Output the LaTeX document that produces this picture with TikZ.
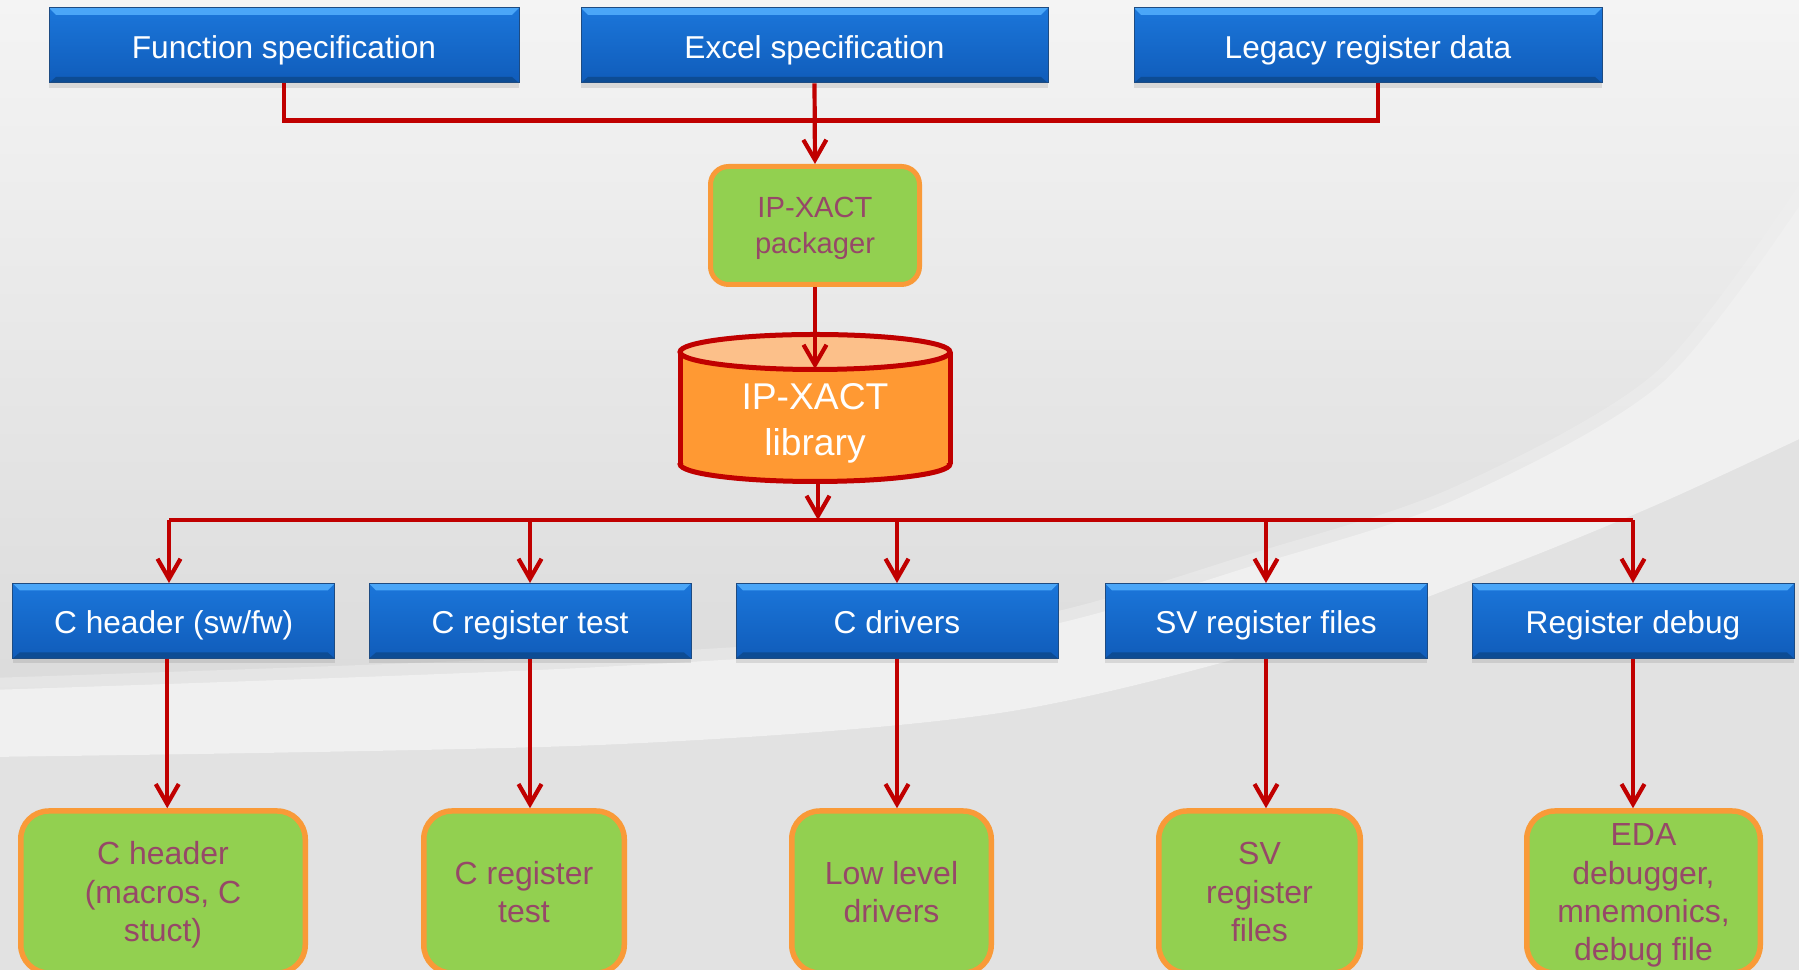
\documentclass[tikz,border=0pt]{standalone}
\usepackage{fontspec}
\setmainfont{Liberation Sans}
\usetikzlibrary{arrows.meta,shadows,calc}

\definecolor{wirered}{HTML}{C00000}
\definecolor{bluetop}{HTML}{1B76DA}
\definecolor{bluebot}{HTML}{105CBA}
\definecolor{bluehi}{HTML}{4AA6F8}
\definecolor{bluedark}{HTML}{0D4C94}
\definecolor{blueedge}{HTML}{1D4B82}
\definecolor{greenfill}{HTML}{92D050}
\definecolor{orangeedge}{HTML}{F99A38}
\definecolor{maroon}{RGB}{150,72,104}
\definecolor{cylbody}{HTML}{FF9933}
\definecolor{cyltop}{HTML}{FCC08A}
\definecolor{bgtop}{HTML}{F4F4F4}
\definecolor{bgmid}{HTML}{DBDBDB}
\definecolor{bglow}{HTML}{E2E2E2}
\definecolor{bgband}{HTML}{F0F0F0}

\newcommand{\boxlines}[2][0.35mm]{\raisebox{-#1}[\height][\depth]{\begin{tabular}{@{}c@{}}#2\end{tabular}}}

\tikzset{
  wire/.style={draw=wirered, line width=0.42mm},
  arr/.style={wire, -{Straight Barb[length=2mm, width=2.3mm]}},
  bluebox/.style={rectangle, minimum width=32.2mm, minimum height=7.5mm, inner sep=0pt,
    text height=0.8em, text depth=0.084em,
    top color=bluetop, bottom color=bluebot, draw=blueedge, line width=0.1mm,
    text=white, font=\fontsize{9}{10.8}\selectfont,
    drop shadow={shadow xshift=0mm, shadow yshift=-0.5mm, opacity=0.22},
    path picture={
      \fill[bluehi] (path picture bounding box.north west) -- (path picture bounding box.north east)
        -- ([xshift=-0.7mm,yshift=-0.7mm]path picture bounding box.north east)
        -- ([xshift=0.7mm,yshift=-0.7mm]path picture bounding box.north west) -- cycle;
      \fill[bluedark] (path picture bounding box.south west) -- (path picture bounding box.south east)
        -- ([xshift=-0.7mm,yshift=0.6mm]path picture bounding box.south east)
        -- ([xshift=0.7mm,yshift=0.6mm]path picture bounding box.south west) -- cycle;
    }},
  gbox/.style={rectangle, rounded corners=2.8mm, fill=greenfill, draw=orangeedge, line width=0.55mm,
    text=maroon, inner sep=0pt, minimum height=16.2mm,
    font=\fontsize{9.1}{10.9}\selectfont},
  pkbox/.style={rectangle, rounded corners=1.8mm, fill=greenfill, draw=orangeedge, line width=0.5mm,
    text=maroon, inner sep=0pt, minimum width=20.9mm, minimum height=11.8mm,
    font=\fontsize{8.3}{10.2}\selectfont},
  cylline/.style={draw=wirered, line width=0.5mm},
  libtext/.style={text=white, inner sep=0pt, font=\fontsize{10.6}{13.1}\selectfont}
}

\begin{document}
\begin{tikzpicture}[x=0.1mm,y=-0.1mm]
\useasboundingbox (0,0) rectangle (1799,970);
\clip (0,0) rectangle (1799,970);

% background
\shade[top color=bgtop, bottom color=bgmid] (0,0) rectangle (1799,700);
\fill[bgmid] (0,699) rectangle (1799,970);
\fill[bglow] plot[smooth] coordinates {(-10,757) (600,745) (1000,713) (1306,639) (1510,565) (1663,502) (1810,434)}
  -- (1810,980) -- (-10,980) -- cycle;
\draw[bgband, line width=2.4mm, opacity=0.45] plot[smooth] coordinates {(-10,690) (600,667) (1000,635) (1265,562) (1459,498) (1663,382) (1810,190)};
\fill[bgband] plot[smooth] coordinates {(-10,690) (600,667) (1000,635) (1265,562) (1459,498) (1663,382) (1810,190)}
  -- (1810,434) -- plot[smooth] coordinates {(1810,434) (1663,502) (1510,565) (1306,639) (1000,713) (600,745) (-10,757)} -- cycle;

% top row
\node[bluebox, minimum width=47mm] (f1) at (284,45.5) {Function specification};
\node[bluebox, minimum width=46.7mm] (f2) at (814.5,45.5) {Excel specification};
\node[bluebox, minimum width=46.8mm] (f3) at (1368,45.5) {Legacy register data};

% packager
\node[pkbox] (pk) at (815,225.5) {\boxlines[0.3mm]{IP-XACT\\packager}};

% cylinder
\fill[cylbody] (680,352) rectangle (950,464);
\fill[cylbody] (815,464) ellipse [x radius=135, y radius=17.5];
\fill[cyltop] (815,352) ellipse [x radius=135, y radius=17.5];
\draw[cylline] (680,352) -- (680,464);
\draw[cylline] (950,352) -- (950,464);
\begin{scope}
  \clip (600,464) rectangle (1000,520);
  \draw[cylline] (815,464) ellipse [x radius=135, y radius=17.5];
\end{scope}
\draw[cylline] (815,352) ellipse [x radius=135, y radius=17.5];
\node[libtext] (lib) at (815,419) {\boxlines[0.4mm]{IP-XACT\\library}};
\coordinate (libin) at (815,369);
\coordinate (libout) at (818,482);
\coordinate (bus) at (818,520);

% second row
\node[bluebox] (c1) at (173.75,621) {C header (sw/fw)};
\node[bluebox] (c2) at (530,621) {C register test};
\node[bluebox] (c3) at (897,621) {C drivers};
\node[bluebox] (c4) at (1266,621) {SV register files};
\node[bluebox] (c5) at (1633,621) {Register debug};

% bottom row
\node[gbox, minimum width=28.45mm] (g1) at (163,892) {\boxlines{C header\\(macros, C\\stuct)}};
\node[gbox, minimum width=20.05mm] (g2) at (524,892) {\boxlines{C register\\test}};
\node[gbox, minimum width=19.95mm] (g3) at (891.5,892) {\boxlines{Low level\\drivers}};
\node[gbox, minimum width=20.15mm] (g4) at (1259.5,892) {\boxlines{SV\\register\\files}};
\node[gbox, minimum width=23.35mm] (g5) at (1643.5,892) {\boxlines{EDA\\debugger,\\mnemonics,\\debug file}};

% connectors top
\draw[wire] (f1.south) -- ++(0,37) coordinate (j1) -- (j1 -| 1378,0) -- (1378,83);
\draw[arr] (f2.south) -- (pk.north);
\draw[arr] (pk.south) -- (libin);
\draw[arr] (libout) -- (bus);

% bus
\coordinate (d1) at (169,520);
\draw[wire] (d1) -- (c5.north |- bus);
\draw[arr] (d1) -- ([xshift=-0.475mm]c1.north);
\foreach \n in {c2,c3,c4,c5} {
  \draw[arr] (\n.north |- bus) -- (\n.north);
}

% lower arrows
\draw[arr] (c1.south) ++(-6.5,0) coordinate (t1) -- (t1 |- g1.north);
\foreach \n/\m in {c2/g2,c3/g3,c4/g4,c5/g5} {
  \draw[arr] (\n.south) -- (\n.south |- \m.north);
}
\end{tikzpicture}
\end{document}
